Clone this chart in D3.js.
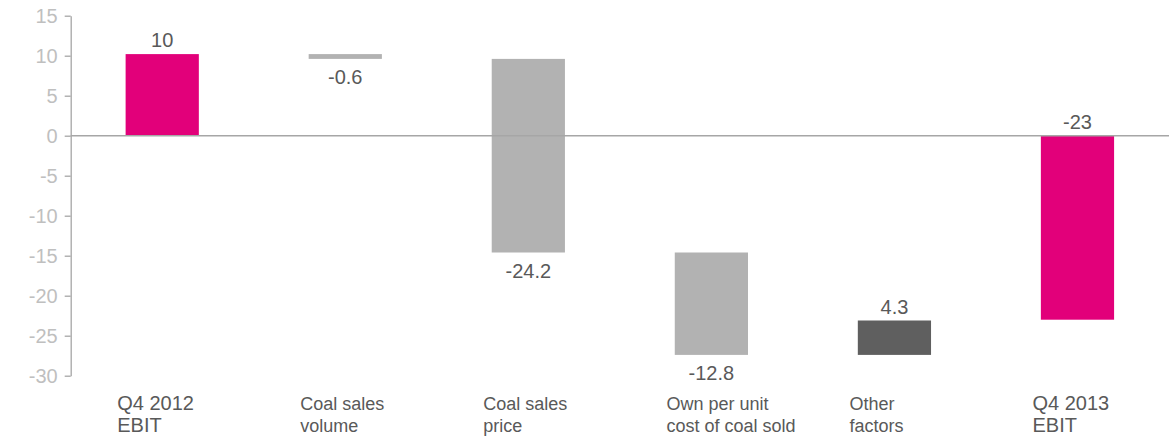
<!DOCTYPE html>
<html>
<head>
<meta charset="utf-8">
<script src="https://cdn.jsdelivr.net/npm/d3@7"></script>
<style>
  html, body { margin: 0; padding: 0; background: #fff; }
  svg { display: block; font-family: Arial, "Liberation Sans", sans-serif; }
</style>
</head>
<body>
<div id="chart"></div>
<script>
// EBIT bridge Q4 2012 -> Q4 2013

// Data
const categories = [
  ['Q4 2012', 'EBIT'],
  ['Coal sales', 'volume'],
  ['Coal sales', 'price'],
  ['Own per unit', 'cost of coal sold'],
  ['Other', 'factors'],
  ['Q4 2013', 'EBIT']
];
const values = [10.2, -0.6, -24.2, -12.8, 4.3, -23];
const kinds = ['total', 'delta', 'delta', 'delta', 'delta', 'total'];
const valueLabels = ['10', '-0.6', '-24.2', '-12.8', '4.3', '-23'];
const yTicks = [15, 10, 5, 0, -5, -10, -15, -20, -25, -30];

// Sizes
const width = 1172, height = 441;
const plotLeft = 70.7, plotRight = 1169, plotTop = 15.7, plotBottom = 375.7;

// Colours
const magenta = '#e2007a';
const lightGrey = '#b2b2b2';
const darkGrey = '#5f5f5f';
const textGrey = '#595959';
const axisGrey = '#a6a6a6';

// Build floating segments
let running = 0;
const bars = values.map((v, i) => {
  let y0, y1;
  if (kinds[i] === 'total') {
    y0 = 0; y1 = v; running = v;
  } else {
    y0 = running; y1 = running + v; running = y1;
  }
  return { i, kind: kinds[i], value: v, y0, y1, label: valueLabels[i] };
});

const svg = d3.select('#chart').append('svg')
  .attr('width', width)
  .attr('height', height);

const x = d3.scaleBand()
  .domain(d3.range(categories.length))
  .range([plotLeft, plotRight])
  .paddingInner(0.6)
  .paddingOuter(0.3);

const y = d3.scaleLinear()
  .domain([-30, 15])
  .range([plotBottom, plotTop]);

// Y axis (plain hyphen for negatives)
const yAxis = svg.append('g')
  .attr('transform', `translate(${plotLeft},0)`)
  .call(d3.axisLeft(y)
    .tickValues(yTicks)
    .tickFormat(d => String(d))
    .tickSize(6)
    .tickSizeOuter(0)
    .tickPadding(7));
yAxis.select('.domain').attr('stroke', axisGrey).attr('stroke-width', 1.3);
yAxis.selectAll('.tick line').attr('stroke', axisGrey).attr('stroke-width', 1.3);
yAxis.selectAll('.tick text')
  .attr('fill', '#bfbfbf')
  .attr('font-size', '20px')
  .attr('font-family', 'Arial, "Liberation Sans", sans-serif');

// Bars
svg.append('g').selectAll('rect')
  .data(bars)
  .join('rect')
  .attr('x', d => x(d.i))
  .attr('width', x.bandwidth())
  .attr('y', d => y(Math.max(d.y0, d.y1)))
  .attr('height', d => Math.abs(y(d.y0) - y(d.y1)))
  .attr('fill', d => d.kind === 'total' ? magenta : (d.value < 0 ? lightGrey : darkGrey));

// Zero line
svg.append('line')
  .attr('x1', plotLeft)
  .attr('x2', plotRight)
  .attr('y1', y(0))
  .attr('y2', y(0))
  .attr('stroke', axisGrey)
  .attr('stroke-width', 1.5);

// Value labels
svg.append('g').selectAll('text')
  .data(bars)
  .join('text')
  .attr('x', d => x(d.i) + x.bandwidth() / 2)
  .attr('y', d => {
    if (d.kind === 'delta' && d.value < 0) return y(Math.min(d.y0, d.y1)) + 25;
    return y(Math.max(d.y0, d.y1)) - 7;
  })
  .attr('text-anchor', 'middle')
  .attr('font-size', '20px')
  .attr('fill', textGrey)
  .text(d => d.label);

// Category labels
const cat = svg.append('g').selectAll('text')
  .data(categories)
  .join('text')
  .attr('x', (d, i) => x(i) + x.bandwidth() / 2 - 45)
  .attr('y', 409.5)
  .attr('font-size', (d, i) => kinds[i] === 'total' ? '20px' : '18px')
  .attr('fill', textGrey);
cat.selectAll('tspan')
  .data(d => d)
  .join('tspan')
  .attr('x', function () { return this.parentNode.getAttribute('x'); })
  .attr('dy', (d, j) => j === 0 ? 0 : 22.8)
  .text(d => d);
</script>
</body>
</html>
